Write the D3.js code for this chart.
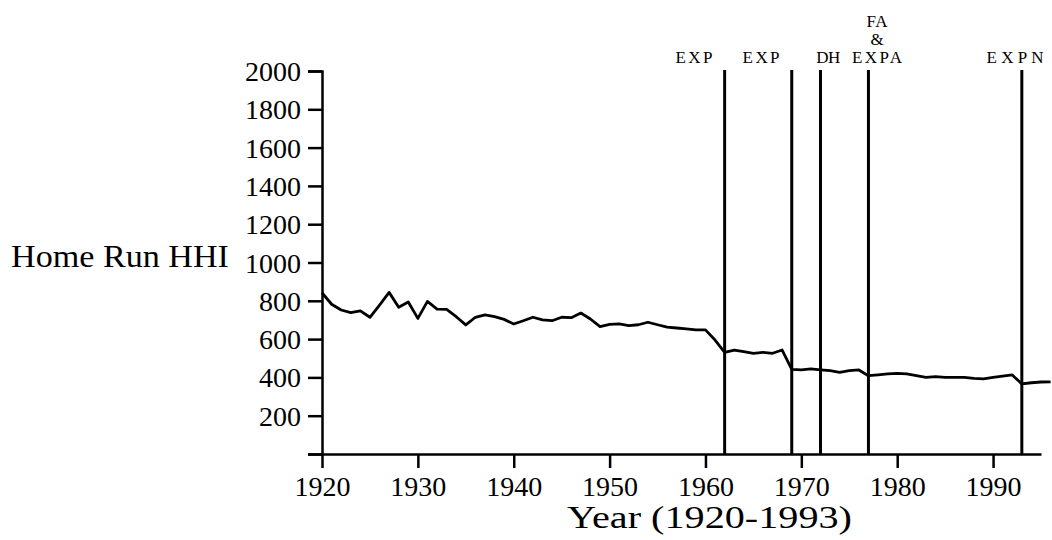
<!DOCTYPE html>
<html>
<head>
<meta charset="utf-8">
<script src="https://cdn.jsdelivr.net/npm/d3@7/dist/d3.min.js"></script>
<style>
  html, body { margin: 0; padding: 0; background: #fff; }
  svg { display: block; }
  svg text, svg g text, .tick text { font-family: "Liberation Serif", "Times New Roman", serif !important; }
</style>
</head>
<body>
<svg id="chart" width="1052" height="540" font-family="Liberation Serif, serif"></svg>
<script>
// ---- data ----
const years = d3.range(1920, 1997);
const hhi = [
  842, 782, 752, 738, 747, 714, 778, 844, 766, 794,
  708, 797, 757, 755, 717, 674, 714, 726, 717, 703,
  679, 696, 714, 700, 696, 714, 712, 736, 705, 665,
  677, 679, 670, 675, 688, 675, 663, 658, 653, 648,
  648, 595, 531, 543, 534, 526, 531, 526, 543, 442,
  439, 444, 439, 435, 426, 435, 439, 409, 413, 418,
  421, 418, 409, 400, 404, 400, 400, 400, 395, 392,
  400, 407, 413, 366, 372, 376, 377
];
const xTicks = [1920, 1930, 1940, 1950, 1960, 1970, 1980, 1990];
const yTicks = [0, 200, 400, 600, 800, 1000, 1200, 1400, 1600, 1800, 2000];
const eventYears = [1962, 1969, 1972, 1977, 1993];
const eventLabels = [["EXP"], ["EXP"], ["DH"], ["FA", "&", "EXPA"], ["EXPN"]];
const eventLabelYears = [1958.8, 1965.8, 1972.8, 1977.9, 1992.3];

// ---- layout ----
const FONT = "Liberation Serif, serif";
const svg = d3.select("#chart");
const x = d3.scaleLinear().domain([1920, 1995]).range([322, 1041]);
const y = d3.scaleLinear().domain([0, 2000]).range([454, 71]);

// y axis
const yAxis = d3.axisLeft(y).tickValues(yTicks).tickSize(14).tickPadding(7)
  .tickFormat(d => d === 0 ? "" : String(d));
const gy = svg.append("g").attr("transform", `translate(${x(1920)},0)`).call(yAxis);
gy.attr("font-family", FONT).attr("font-size", 28);
gy.select(".domain").attr("stroke", "#000").attr("stroke-width", 2.5);
gy.selectAll(".tick line").attr("stroke", "#000").attr("stroke-width", 2.5);
gy.selectAll(".tick text").attr("font-family", FONT).attr("font-size", 28)
  .attr("fill", "#000").attr("dy", "0.34em");

// x axis
const xAxis = d3.axisBottom(x).tickValues(xTicks).tickSize(14).tickPadding(8)
  .tickSizeOuter(0).tickFormat(d => String(d));
const gx = svg.append("g").attr("transform", `translate(0,${y(0)})`).call(xAxis);
gx.attr("font-family", FONT).attr("font-size", 28);
gx.select(".domain").attr("stroke", "#000").attr("stroke-width", 2.5);
gx.selectAll(".tick line").attr("stroke", "#000").attr("stroke-width", 2.5);
gx.selectAll(".tick text").attr("font-family", FONT).attr("font-size", 28).attr("fill", "#000");

// event lines
svg.append("g").selectAll("line").data(eventYears).join("line")
  .attr("x1", d => x(d)).attr("x2", d => x(d))
  .attr("y1", y(2000) - 1).attr("y2", y(0))
  .attr("stroke", "#000").attr("stroke-width", 3);

// data line
const line = d3.line().x((d, i) => x(years[i])).y(d => y(d));
svg.append("path").datum(hhi)
  .attr("fill", "none").attr("stroke", "#000").attr("stroke-width", 2.8)
  .attr("stroke-linejoin", "round").attr("d", line);

// event labels
const lblWidths = { "EXP": 37, "DH": 24, "EXPA": 50, "EXPN": 57, "FA": 21, "&": 12 };
eventLabels.forEach((lines, i) => {
  const n = lines.length;
  lines.forEach((t, j) => {
    svg.append("text")
      .attr("x", x(eventLabelYears[i]))
      .attr("y", 63 - (n - 1 - j) * 18)
      .attr("text-anchor", "middle")
      .attr("font-size", 17)
      .attr("textLength", lblWidths[t])
      .attr("lengthAdjust", "spacing")
      .text(t);
  });
});

// axis titles
svg.append("text").attr("x", 11).attr("y", 267)
  .attr("font-size", 31)
  .attr("textLength", 218).attr("lengthAdjust", "spacingAndGlyphs")
  .text("Home Run HHI");
svg.append("text").attr("x", 567).attr("y", 528)
  .attr("font-size", 32)
  .attr("textLength", 285).attr("lengthAdjust", "spacingAndGlyphs")
  .text("Year (1920-1993)");
</script>
</body>
</html>
